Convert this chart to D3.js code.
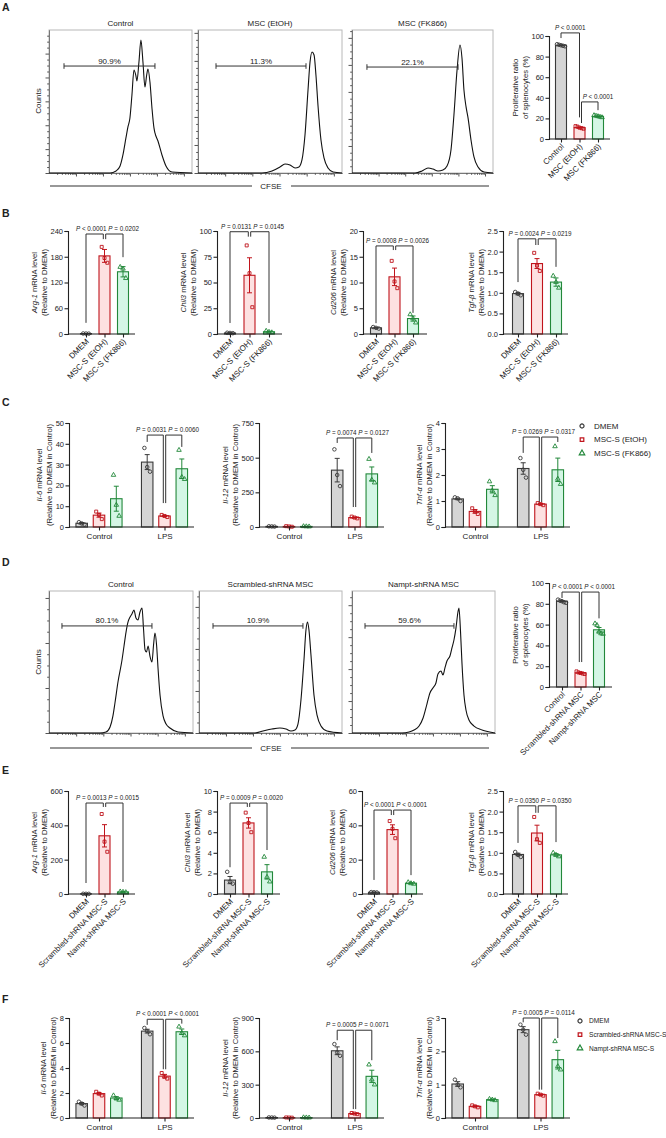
<!DOCTYPE html>
<html>
<head>
<meta charset="utf-8">
<script src="https://cdn.jsdelivr.net/npm/d3@7/dist/d3.min.js"></script>
<style>
  html, body { margin:0; padding:0; background:#fff; }
  svg { display:block; }
</style>
</head>
<body>
<svg id="fig" width="666" height="1138" xmlns="http://www.w3.org/2000/svg"></svg>
<script>
// ======================= DATA =======================
// ---- Panel A : CFSE histograms (x = % of CFSE axis, y = % of max counts) ----
const histTitlesA = ["Control", "MSC (EtOH)", "MSC (FK866)"];
const gateLabelsA = ["90.9%", "11.3%", "22.1%"];
const gatesA = [[10.5, 74.1, 74.8], [12.5, 75.0, 74.8], [10.6, 75.2, 74.1]];
const countStepA = [16.7, 19.6, 18.9];
const histA1 = [[0,0],[42.7,0],[46.9,1.4],[49.7,4.9],[51.7,12.6],[53.8,24.5],[55.2,32.2],[56.6,38.5],[58,54.5],[59.4,72],[60.8,67.8],[61.5,64.3],[62.9,77.6],[64.3,93],[65.7,77.6],[67.1,60.1],[68.2,67.8],[69.2,72.7],[70.6,63.6],[72,45.5],[73.4,31.5],[74.1,28],[76.2,22.4],[79,12.6],[81.8,4.9],[86,0.7],[100,0]];
const histA2 = [[0,0],[44.4,0],[51.4,1.4],[56.9,4.2],[60.4,6.3],[63.9,5.6],[67.4,3.5],[70.1,4.2],[72.2,9.1],[74.3,26.6],[76.4,58],[77.8,77.6],[79.2,84.6],[80.6,82.5],[81.9,68.5],[83.3,47.6],[85.4,23.1],[87.5,10.5],[90.3,3.5],[93.8,0.7],[100,0]];
const histA3 = [[0,0],[44.7,0],[49.6,1.4],[53.9,3.5],[57.4,2.8],[61,1.4],[64.5,2.1],[67.4,4.9],[70.2,16.1],[72.3,40.6],[74.5,72],[76.6,89.5],[78,80.4],[79.4,58],[80.9,46.2],[82.3,38.5],[84.4,23.1],[86.5,11.2],[89.4,4.2],[93.6,0.7],[100,0]];

// ---- Panel A : proliferation bar chart ----
const prolifCatsA = ["Control", "MSC (EtOH)", "MSC (FK866)"];
const prolifMeanA = [91, 11, 22];
const prolifSemA = [0.4, 0.5, 0.4];
const prolifPtsA = [[92, 91.5, 91, 90.5, 90], [12.5, 12, 11, 10.5, 10], [23, 22.5, 22, 21.5, 21]];
const prolifTicks = [0, 20, 40, 60, 80, 100];

// ---- Panel B ----
const catsB = ["DMEM", "MSC-S (EtOH)", "MSC-S (FK866)"];
const argMeanB = [1.0, 182, 145];
const argSemB = [0.15, 15, 12];
const argPtsB = [[1.2, 1.0, 0.8], [203, 177, 166], [156, 152, 130]];
const argTicksB = [0, 60, 120, 180, 240];
const argPB = ["< 0.0001", "= 0.0202"];
const argBracketB = [233, 26, 221, 179];

const chilMeanB = [1.0, 57, 2.2];
const chilSemB = [0.2, 17, 0.4];
const chilPtsB = [[1.2, 1.0, 0.8], [86, 59, 26], [3.0, 2.0, 1.5]];
const chilTicksB = [0, 25, 50, 75, 100];
const chilPB = ["= 0.0131", "= 0.0145"];
const chilBracketB = [99.3, 10.7, 94.5, 10.7];

const cdMeanB = [1.2, 11.1, 3.0];
const cdSemB = [0.1, 1.7, 0.5];
const cdPtsB = [[1.35, 1.2, 1.05], [14.2, 10.2, 8.9], [3.8, 3.0, 2.2]];
const cdTicksB = [0, 5, 10, 15, 20];
const cdPB = ["= 0.0008", "= 0.0026"];
const cdBracketB = [17.1, 2.1, 16.3, 4.1];

const tgfMeanB = [0.98, 1.71, 1.26];
const tgfSemB = [0.03, 0.12, 0.1];
const tgfPtsB = [[1.02, 0.98, 0.94], [1.97, 1.66, 1.53], [1.41, 1.26, 1.12]];
const tgfTicks = [0, 0.5, 1.0, 1.5, 2.0, 2.5];
const tgfPB = ["= 0.0024", "= 0.0219"];
const tgfBracketB = [2.31, 1.26, 2.16, 1.63];

// ---- Panel C (groups x series) ----
const groupsC = ["Control", "LPS"];
const seriesC = ["DMEM", "MSC-S (EtOH)", "MSC-S (FK866)"];
const il6MeanC = [[1.8, 5.7, 13.6], [31.2, 5.3, 28]];
const il6SemC = [[0.35, 1.0, 6.0], [3.6, 0.3, 4.7]];
const il6PtsC = [[[2.3, 1.7, 1.2], [7.4, 5.8, 3.8], [25, 10.6, 5.3]], [[38, 28.8, 26.6], [5.8, 5.3, 4.8], [37, 24, 23]]];
const il6TicksC = [0, 10, 20, 30, 40, 50];
const il6PC = ["= 0.0031", "= 0.0060"];
const il6BracketC = [44.2, 40.9, 11.5, 38.5];

const il12MeanC = [[4, 4, 4], [410, 68, 383]];
const il12SemC = [[0.5, 1, 0.5], [85, 4, 50]];
const il12PtsC = [[[5, 4, 3], [6, 4, 2], [5, 4, 3]], [[560, 375, 295], [75, 68, 62], [490, 340, 320]]];
const il12TicksC = [0, 250, 500, 750];
const il12PC = ["= 0.0074", "= 0.0127"];
const il12BracketC = [642, 606, 144, 534];

const tnfMeanC = [[1.08, 0.6, 1.45], [2.25, 0.88, 2.2]];
const tnfSemC = [[0.03, 0.07, 0.14], [0.22, 0.03, 0.45]];
const tnfPtsC = [[[1.14, 1.1, 1.0], [0.72, 0.6, 0.5], [1.75, 1.4, 1.22]], [[2.65, 2.2, 1.9], [0.92, 0.88, 0.84], [3.1, 1.85, 1.65]]];
const tnfTicksC = [0, 1, 2, 3, 4];
const tnfPC = ["= 0.0269", "= 0.0317"];
const tnfBracketC = [3.46, 2.85, 0.96, 3.27];

// ---- Panel D : CFSE histograms ----
const histTitlesD = ["Control", "Scrambled-shRNA MSC", "Nampt-shRNA MSC"];
const gateLabelsD = ["80.1%", "10.9%", "59.6%"];
const gatesD = [[9.0, 71.5, 75.4], [9.8, 72.7, 75.4], [9.1, 71.3, 75.4]];
const countStepD = [31.7, 29.6, 22.5];
const histD1 = [[0,0],[35.4,0],[39.6,0.7],[42.4,4.2],[44.4,12],[45.8,21.1],[47.9,35.9],[50.7,51.4],[52.1,61.3],[53.5,71.1],[54.9,78.2],[56.3,81.7],[57.6,83.8],[59,86.6],[60.4,81],[61.8,79.6],[63.2,85.2],[64.6,88],[65.6,73.9],[66.7,58.5],[67.7,57],[68.8,61.3],[70.1,54.2],[71.5,50],[72.6,62],[73.6,70.4],[74.7,62],[75.7,45.8],[77.1,26.8],[79.2,12],[81.3,6.3],[84,3.5],[89.6,0.7],[100,0]];
const histD2 = [[0,0],[39.2,0],[44.8,1.4],[51,2.8],[56.6,3.5],[60.8,2.8],[64.3,1.4],[67.1,2.1],[69.2,6.3],[71.3,23.2],[73.4,51.4],[74.8,72.5],[75.9,78.2],[76.9,72.5],[78.3,54.9],[80.4,26.8],[82.5,12.7],[85.3,4.9],[89.5,1.4],[100,0]];
const histD3 = [[0,0],[35,0],[39.9,0.7],[43.4,2.1],[46.9,4.9],[49.7,10.6],[52.4,20.4],[54.5,28.2],[56.6,31.7],[58.7,35.2],[60.1,41.5],[62.2,43.7],[63.6,40.8],[65,45.8],[66.4,50.7],[68.5,54.2],[69.9,59.9],[71.3,65.5],[72.7,73.9],[74.1,85.2],[74.8,88],[75.9,71.1],[76.9,49.3],[78.3,26.8],[79.7,16.2],[81.8,9.2],[85.3,4.9],[90.9,2.1],[100,0]];

// ---- Panel D : proliferation bar chart ----
const prolifCatsD = ["Control", "Scrambled-shRNA MSC", "Nampt-shRNA MSC"];
const prolifMeanD = [82.5, 13.5, 55];
const prolifSemD = [0.6, 0.5, 2.2];
const prolifPtsD = [[84, 83, 82.5, 81.5, 81], [15, 14, 13.5, 13, 12.5], [61, 59.5, 53, 51.5, 51]];
const prolifPD = ["< 0.0001", "< 0.0001"];
const prolifBracketD = [91.3, 85.6, 24, 66];

// ---- Panel E ----
const catsE = ["DMEM", "Scrambled-shRNA MSC-S", "Nampt-shRNA MSC-S"];
const argMeanE = [1.0, 339, 12];
const argSemE = [0.2, 65, 1.2];
const argPtsE = [[1.2, 1.0, 0.8], [466, 305, 246], [14, 12, 10]];
const argTicksE = [0, 200, 400, 600];
const argPE = ["= 0.0013", "= 0.0015"];
const argBracketE = [530, 64, 507, 70];

const chilMeanE = [1.35, 6.9, 2.15];
const chilSemE = [0.35, 0.5, 0.7];
const chilPtsE = [[2.15, 1.2, 1.0], [7.9, 6.9, 6.0], [3.6, 1.65, 1.2]];
const chilTicksE = [0, 2, 4, 6, 8, 10];
const chilPE = ["= 0.0009", "= 0.0020"];
const chilBracketE = [8.83, 2.6, 8.45, 4.27];

const cdMeanE = [1.0, 37.5, 6.3];
const cdSemE = [0.1, 2.8, 0.3];
const cdPtsE = [[1.1, 1.0, 0.9], [42.5, 38, 32.5], [6.8, 6.2, 5.9]];
const cdTicksE = [0, 20, 40, 60];
const cdPE = ["< 0.0001", "< 0.0001"];
const cdBracketE = [48.9, 8.2, 46, 11];

const tgfMeanE = [0.96, 1.48, 0.95];
const tgfSemE = [0.03, 0.19, 0.03];
const tgfPtsE = [[1.02, 0.95, 0.9], [1.87, 1.33, 1.24], [1.0, 0.95, 0.91]];
const tgfPE = ["= 0.0350", "= 0.0350"];
const tgfBracketE = [2.14, 1.24, 1.97, 1.26];

// ---- Panel F ----
const seriesF = ["DMEM", "Scrambled-shRNA MSC-S", "Nampt-shRNA MSC-S"];
const il6MeanF = [[1.15, 1.95, 1.6], [6.95, 3.35, 6.9]];
const il6SemF = [[0.09, 0.09, 0.11], [0.15, 0.14, 0.22]];
const il6PtsF = [[[1.3, 1.15, 1.0], [2.1, 1.95, 1.8], [1.8, 1.55, 1.45]], [[7.2, 6.95, 6.7], [3.6, 3.3, 3.15], [7.3, 6.8, 6.6]]];
const il6TicksF = [0, 2, 4, 6, 8];
const il6PF = ["< 0.0001", "< 0.0001"];
const il6BracketF = [7.9, 7.45, 3.9, 7.55];

const il12MeanF = [[4, 4, 4], [605, 40, 375]];
const il12SemF = [[0.5, 0.5, 0.5], [35, 4, 55]];
const il12PtsF = [[[5, 4, 3], [5, 4, 3], [5, 4, 3]], [[665, 590, 560], [45, 40, 35], [480, 345, 300]]];
const il12TicksF = [0, 300, 600, 900];
const il12PF = ["= 0.0005", "= 0.0071"];
const il12BracketF = [790, 700, 80, 520];

const tnfMeanF = [[1.02, 0.35, 0.55], [2.65, 0.7, 1.75]];
const tnfSemF = [[0.07, 0.02, 0.02], [0.09, 0.02, 0.28]];
const tnfPtsF = [[[1.15, 1.0, 0.92], [0.38, 0.35, 0.32], [0.57, 0.55, 0.53]], [[2.8, 2.65, 2.5], [0.73, 0.7, 0.67], [2.3, 1.55, 1.45]]];
const tnfTicksF = [0, 1, 2, 3];
const tnfPF = ["= 0.0005", "= 0.0114"];
const tnfBracketF = [3.0, 2.87, 0.85, 2.4];

// ======================= DRAWING =======================
const svg = d3.select("#fig");
const FONT = "'Liberation Sans', Arial, Helvetica, sans-serif";
const INK = "#222";
const STROKE = ["#3a3a3a", "#c0141c", "#22883a"];
const FILL = ["#d5d5d5", "#fde1e1", "#d4f6e5"];
const SHAPES = [d3.symbolCircle, d3.symbolSquare, d3.symbolTriangle];
const SYM_SIZE = [10, 9, 9];

function addText(g, x, y, s, size, anchor = "middle", weight = "normal") {
  return g.append("text").attr("x", x).attr("y", y).attr("font-family", FONT).attr("font-size", size)
    .attr("text-anchor", anchor).attr("font-weight", weight).attr("fill", INK).text(s);
}
function panelLetter(l, y) { addText(svg, 2, y, l, 10.5, "start", "bold"); }

function styleAxis(a) {
  a.attr("font-family", FONT).attr("font-size", 7.5);
  a.select(".domain").attr("stroke", INK).attr("stroke-width", 1.1);
  a.selectAll(".tick line").attr("stroke", INK).attr("stroke-width", 1.1);
  a.selectAll(".tick text").attr("fill", INK);
}

function histogram(o) {
  const g = svg.append("g");
  const xs = d3.scaleLinear().domain([0, 100]).range([o.left, o.right]);
  const ys = d3.scaleLinear().domain([0, 100]).range([o.bottom, o.top]);
  g.append("rect").attr("x", o.left).attr("y", o.top).attr("width", o.right - o.left).attr("height", o.bottom - o.top)
    .attr("fill", "none").attr("stroke", "#b8b8b8").attr("stroke-width", 1);
  const major = d3.range(0, 100.001, o.step);
  const minor = d3.range(0, 100.001, o.step / 4).filter(v => !major.some(m => Math.abs(m - v) < 1e-6));
  const ya = g.append("g").attr("transform", `translate(${o.left},0)`);
  ya.append("g").call(d3.axisLeft(ys).tickValues(major).tickSize(3.5).tickSizeOuter(0).tickFormat(""));
  ya.append("g").call(d3.axisLeft(ys).tickValues(minor).tickSize(1.8).tickSizeOuter(0).tickFormat(""));
  const dec = 100 / 5.3;
  const xMaj = [1, 2, 3, 4, 5].map(k => k * dec);
  const xMin = [];
  for (let d = 0; d < 6; d++) for (let m = 2; m < 10; m++) { const v = (d + Math.log10(m)) * dec; if (v < 100) xMin.push(v); }
  const xa = g.append("g").attr("transform", `translate(0,${o.bottom})`);
  xa.append("g").call(d3.axisBottom(xs).tickValues(xMaj).tickSize(3.5).tickSizeOuter(0).tickFormat(""));
  xa.append("g").call(d3.axisBottom(xs).tickValues(xMin).tickSize(1.8).tickSizeOuter(0).tickFormat(""));
  g.selectAll(".domain").attr("stroke", "#777");
  g.selectAll(".tick line").attr("stroke", "#555");
  g.append("path").datum(o.curve).attr("fill", "none").attr("stroke", "#111").attr("stroke-width", 1.1)
    .attr("d", d3.line().x(d => xs(d[0])).y(d => ys(d[1])).curve(d3.curveMonotoneX));
  const gy = ys(o.gate[2]), g0 = xs(o.gate[0]), g1 = xs(o.gate[1]);
  g.append("path").attr("d", `M${g0},${gy - 2.8}V${gy + 2.8}M${g0},${gy}H${g1}M${g1},${gy - 2.8}V${gy + 2.8}`)
    .attr("stroke", "#333").attr("fill", "none").attr("stroke-width", 1);
  addText(g, (g0 + g1) / 2, gy - 2.5, o.label, 8);
  addText(g, (o.left + o.right) / 2, o.top - 4, o.title, 8);
}

function cfseAxis(y) {
  svg.append("line").attr("x1", 50).attr("x2", 252).attr("y1", y).attr("y2", y).attr("stroke", "#333").attr("stroke-width", 1.2);
  svg.append("line").attr("x1", 291).attr("x2", 489).attr("y1", y).attr("y2", y).attr("stroke", "#333").attr("stroke-width", 1.2);
  addText(svg, 271, y + 3, "CFSE", 8);
}
function countsLabel(y) {
  svg.append("text").attr("transform", `translate(41,${y}) rotate(-90)`).attr("text-anchor", "middle")
    .attr("font-family", FONT).attr("font-size", 8).attr("fill", INK).text("Counts");
}

function drawBar(g, cx, s, mean, sem, pts, y, bw) {
  g.append("rect").attr("x", cx - bw / 2).attr("y", y(mean)).attr("width", bw).attr("height", Math.max(0, y(0) - y(mean)))
    .attr("fill", FILL[s]).attr("stroke", STROKE[s]).attr("stroke-width", 1.1);
  const t = y(mean + sem), b = y(Math.max(0, mean - sem));
  g.append("path").attr("d", `M${cx - 2.5},${t}H${cx + 2.5}M${cx},${t}V${b}M${cx - 2.5},${b}H${cx + 2.5}`)
    .attr("stroke", STROKE[s]).attr("stroke-width", 1).attr("fill", "none");
  const n = pts.length, spread = n > 3 ? 2 : 2.8;
  pts.forEach((v, j) => {
    g.append("path").attr("d", d3.symbol().type(SHAPES[s]).size(SYM_SIZE[s])())
      .attr("transform", `translate(${cx + (j - (n - 1) / 2) * spread},${y(v)})`)
      .attr("fill", "none").attr("stroke", STROKE[s]).attr("stroke-width", 0.9);
  });
}

function pText(g, x, y, vals, anchor = "middle") {
  const t = g.append("text").attr("x", x).attr("y", y).attr("text-anchor", anchor)
    .attr("font-family", FONT).attr("font-size", 6.3).attr("fill", INK);
  vals.forEach((v, i) => {
    t.append("tspan").attr("font-style", "italic").text((i > 0 ? " " : "") + "P");
    t.append("tspan").text(" " + v);
  });
}

function yTitle(g, base2, yMid, parts1, line2) {
  const t1 = g.append("text").attr("transform", `translate(${base2 - 10},${yMid}) rotate(-90)`).attr("text-anchor", "middle")
    .attr("font-family", FONT).attr("font-size", 7.7).attr("fill", INK);
  parts1.forEach(p => t1.append("tspan").attr("font-style", p[1] ? "italic" : "normal").text(p[0]));
  g.append("text").attr("transform", `translate(${base2},${yMid}) rotate(-90)`).attr("text-anchor", "middle")
    .attr("font-family", FONT).attr("font-size", 7.7).attr("fill", INK).text(line2);
}

function yAxisWithTitle(g, o, y) {
  const ya = g.append("g").attr("transform", `translate(${o.ax},0)`)
    .call(d3.axisLeft(y).tickValues(o.ticks).tickFormat(o.fmt || d3.format("d")).tickSizeOuter(0).tickSize(3.5).tickPadding(1.5));
  styleAxis(ya);
  const w = d3.max(ya.selectAll(".tick text").nodes(), n => n.getBBox().width);
  yTitle(g, o.ax - 3.5 - 1.5 - w - 3.5, (o.yTop + o.yBot) / 2, o.title1, o.title2);
}

function pairBracket(g, xl, xm, xr, y, b, pv) {
  const top = y(b[0]);
  g.append("path").attr("d", `M${xl},${y(b[1])}V${top}H${xm - 1.2}V${y(b[2])}M${xm + 1.2},${y(b[2])}V${top}H${xr}V${y(b[3])}`)
    .attr("fill", "none").attr("stroke", "#333").attr("stroke-width", 1);
  pText(g, xm + 3, top - 3, pv);
}

function simpleChart(o) {
  const g = svg.append("g");
  const y = d3.scaleLinear().domain([0, o.yMax]).range([o.yBot, o.yTop]);
  const x = d3.scalePoint().domain(o.cats).range([o.ax + o.off, o.ax + o.off + o.step * (o.cats.length - 1)]);
  o.cats.forEach((c, i) => drawBar(g, x(c), i, o.means[i], o.sems[i], o.pts[i], y, 11));
  yAxisWithTitle(g, o, y);
  g.append("line").attr("x1", o.ax).attr("x2", o.ax + o.axLen).attr("y1", y(0)).attr("y2", y(0)).attr("stroke", INK).attr("stroke-width", 1.1);
  const xa = g.append("g").attr("transform", `translate(0,${y(0)})`).call(d3.axisBottom(x).tickSize(3.5).tickSizeOuter(0).tickFormat(""));
  xa.select(".domain").remove(); styleAxis(xa);
  o.cats.forEach(c => g.append("text").attr("transform", `translate(${x(c) + 1.5},${y(0) + 6}) rotate(-45)`)
    .attr("dy", "0.35em").attr("text-anchor", "end").attr("font-family", FONT).attr("font-size", 8).attr("fill", INK).text(c));
  if (o.bracket) pairBracket(g, x(o.cats[0]), x(o.cats[1]), x(o.cats[2]), y, o.bracket, o.pvals);
  return { g, x, y };
}

function groupChart(o) {
  const g = svg.append("g");
  const y = d3.scaleLinear().domain([0, o.yMax]).range([o.yBot, o.yTop]);
  const x0 = d3.scalePoint().domain(o.groups).range([o.ax + 30, o.ax + 95.5]);
  const x1 = d3.scalePoint().domain(o.series).range([-17.3, 17.3]);
  o.groups.forEach((gn, gi) => o.series.forEach((sn, si) =>
    drawBar(g, x0(gn) + x1(sn), si, o.means[gi][si], o.sems[gi][si], o.pts[gi][si], y, 11.5)));
  yAxisWithTitle(g, o, y);
  g.append("line").attr("x1", o.ax).attr("x2", o.ax + 125).attr("y1", y(0)).attr("y2", y(0)).attr("stroke", INK).attr("stroke-width", 1.1);
  const xa = g.append("g").attr("transform", `translate(0,${y(0)})`).call(d3.axisBottom(x0).tickSize(3.5).tickSizeOuter(0).tickPadding(3));
  xa.select(".domain").remove(); styleAxis(xa); xa.attr("font-size", 8);
  const L = o.groups[1];
  pairBracket(g, x0(L) + x1(o.series[0]), x0(L) + x1(o.series[1]), x0(L) + x1(o.series[2]), y, o.bracket, o.pvals);
}

function legend(x, y0, names, fs, tx) {
  names.forEach((n, i) => {
    const yy = y0 + i * 13.6;
    svg.append("path").attr("d", d3.symbol().type(SHAPES[i]).size(13)()).attr("transform", `translate(${x},${yy})`)
      .attr("fill", "none").attr("stroke", STROKE[i]).attr("stroke-width", 1.2);
    addText(svg, x + tx, yy + fs * 0.36, n, fs, "start");
  });
}

// ---------- Panel A ----------
panelLetter("A", 11);
const boxesA = [[49, 192], [198, 342], [352, 493]];
const curvesA = [histA1, histA2, histA3];
boxesA.forEach((b, i) => histogram({ left: b[0], right: b[1], top: 30, bottom: 173, step: countStepA[i],
  curve: curvesA[i], gate: gatesA[i], label: gateLabelsA[i], title: histTitlesA[i] }));
countsLabel(101);
cfseAxis(186);

(function () {
  const o = { ax: 549, axLen: 61, off: 12, step: 18.5, yTop: 36, yBot: 139, yMax: 100, ticks: prolifTicks,
    cats: prolifCatsA, means: prolifMeanA, sems: prolifSemA, pts: prolifPtsA,
    title1: [["Proliferative ratio", false]], title2: "of splenocytes (%)" };
  const { g, x, y } = simpleChart(o);
  const x0 = x(prolifCatsA[0]), x1 = x(prolifCatsA[1]), x2 = x(prolifCatsA[2]);
  g.append("path").attr("d", `M${x0},${y(98)}V${y(103)}H${x1}V${y(21)}`).attr("fill", "none").attr("stroke", "#333");
  pText(g, (x0 + x1) / 2, y(103) - 3, ["< 0.0001"]);
  g.append("path").attr("d", `M${x1 + 2},${y(15.5)}V${y(36)}H${x2}V${y(28)}`).attr("fill", "none").attr("stroke", "#333");
  pText(g, x2, y(36) - 3, ["< 0.0001"]);
})();

// ---------- Panel B ----------
panelLetter("B", 217);
const yB = { yTop: 231, yBot: 334 };
simpleChart({ ax: 68, axLen: 67, off: 18, step: 18.5, ...yB, yMax: 240, ticks: argTicksB, cats: catsB,
  means: argMeanB, sems: argSemB, pts: argPtsB, title1: [["Arg-1", true], [" mRNA level", false]], title2: "(Relative to DMEM)",
  bracket: argBracketB, pvals: argPB });
simpleChart({ ax: 217, axLen: 65, off: 13, step: 19.5, ...yB, yMax: 100, ticks: chilTicksB, cats: catsB,
  means: chilMeanB, sems: chilSemB, pts: chilPtsB, title1: [["Chil3", true], [" mRNA level", false]], title2: "(Relative to DMEM)",
  bracket: chilBracketB, pvals: chilPB });
simpleChart({ ax: 363, axLen: 64, off: 13, step: 18.5, ...yB, yMax: 20, ticks: cdTicksB, cats: catsB,
  means: cdMeanB, sems: cdSemB, pts: cdPtsB, title1: [["Cd206", true], [" mRNA level", false]], title2: "(Relative to DMEM)",
  bracket: cdBracketB, pvals: cdPB });
simpleChart({ ax: 503, axLen: 65, off: 15, step: 19, ...yB, yMax: 2.5, ticks: tgfTicks, fmt: d3.format(".1f"), cats: catsB,
  means: tgfMeanB, sems: tgfSemB, pts: tgfPtsB, title1: [["Tgf-β", true], [" mRNA level", false]], title2: "(Relative to DMEM)",
  bracket: tgfBracketB, pvals: tgfPB });

// ---------- Panel C ----------
panelLetter("C", 406);
const yC = { yTop: 423, yBot: 527 };
groupChart({ ax: 69, ...yC, yMax: 50, ticks: il6TicksC, groups: groupsC, series: seriesC, means: il6MeanC, sems: il6SemC, pts: il6PtsC,
  title1: [["Il-6", true], [" mRNA level", false]], title2: "(Relative to DMEM in Control)", bracket: il6BracketC, pvals: il6PC });
groupChart({ ax: 259, ...yC, yMax: 750, ticks: il12TicksC, groups: groupsC, series: seriesC, means: il12MeanC, sems: il12SemC, pts: il12PtsC,
  title1: [["Il-12", true], [" mRNA level", false]], title2: "(Relative to DMEM in Control)", bracket: il12BracketC, pvals: il12PC });
groupChart({ ax: 445, ...yC, yMax: 4, ticks: tnfTicksC, groups: groupsC, series: seriesC, means: tnfMeanC, sems: tnfSemC, pts: tnfPtsC,
  title1: [["Tnf-α", true], [" mRNA level", false]], title2: "(Relative to DMEM in Control)", bracket: tnfBracketC, pvals: tnfPC });
legend(582, 426, seriesC, 8, 12);

// ---------- Panel D ----------
panelLetter("D", 566);
const boxesD = [[49, 193], [199, 342], [352, 495]];
const curvesD = [histD1, histD2, histD3];
boxesD.forEach((b, i) => histogram({ left: b[0], right: b[1], top: 591, bottom: 733, step: countStepD[i],
  curve: curvesD[i], gate: gatesD[i], label: gateLabelsD[i], title: histTitlesD[i] }));
countsLabel(662);
cfseAxis(748);
simpleChart({ ax: 549, axLen: 63, off: 13, step: 18.5, yTop: 583, yBot: 687, yMax: 100, ticks: prolifTicks,
  cats: prolifCatsD, means: prolifMeanD, sems: prolifSemD, pts: prolifPtsD,
  title1: [["Proliferative ratio", false]], title2: "of splenocytes (%)", bracket: prolifBracketD, pvals: prolifPD });

// ---------- Panel E ----------
panelLetter("E", 774);
const yE = { yTop: 791, yBot: 894 };
simpleChart({ ax: 68, axLen: 67, off: 18, step: 18.5, ...yE, yMax: 600, ticks: argTicksE, cats: catsE,
  means: argMeanE, sems: argSemE, pts: argPtsE, title1: [["Arg-1", true], [" mRNA level", false]], title2: "(Relative to DMEM)",
  bracket: argBracketE, pvals: argPE });
simpleChart({ ax: 217, axLen: 63, off: 13, step: 18.5, ...yE, yMax: 10, ticks: chilTicksE, cats: catsE,
  means: chilMeanE, sems: chilSemE, pts: chilPtsE, title1: [["Chil3", true], [" mRNA level", false]], title2: "(Relative to DMEM)",
  bracket: chilBracketE, pvals: chilPE });
simpleChart({ ax: 362, axLen: 61, off: 12, step: 18.5, ...yE, yMax: 60, ticks: cdTicksE, cats: catsE,
  means: cdMeanE, sems: cdSemE, pts: cdPtsE, title1: [["Cd206", true], [" mRNA level", false]], title2: "(Relative to DMEM)",
  bracket: cdBracketE, pvals: cdPE });
simpleChart({ ax: 503, axLen: 65, off: 15, step: 19, ...yE, yMax: 2.5, ticks: tgfTicks, fmt: d3.format(".1f"), cats: catsE,
  means: tgfMeanE, sems: tgfSemE, pts: tgfPtsE, title1: [["Tgf-β", true], [" mRNA level", false]], title2: "(Relative to DMEM)",
  bracket: tgfBracketE, pvals: tgfPE });

// ---------- Panel F ----------
panelLetter("F", 1003);
const yF = { yTop: 1018, yBot: 1118 };
groupChart({ ax: 69, ...yF, yMax: 8, ticks: il6TicksF, groups: groupsC, series: seriesF, means: il6MeanF, sems: il6SemF, pts: il6PtsF,
  title1: [["Il-6", true], [" mRNA level", false]], title2: "(Relative to DMEM in Control)", bracket: il6BracketF, pvals: il6PF });
groupChart({ ax: 259, ...yF, yMax: 900, ticks: il12TicksF, groups: groupsC, series: seriesF, means: il12MeanF, sems: il12SemF, pts: il12PtsF,
  title1: [["Il-12", true], [" mRNA level", false]], title2: "(Relative to DMEM in Control)", bracket: il12BracketF, pvals: il12PF });
groupChart({ ax: 445, ...yF, yMax: 3, ticks: tnfTicksF, groups: groupsC, series: seriesF, means: tnfMeanF, sems: tnfSemF, pts: tnfPtsF,
  title1: [["Tnf-α", true], [" mRNA level", false]], title2: "(Relative to DMEM in Control)", bracket: tnfBracketF, pvals: tnfPF });
legend(580, 1021, seriesF, 6.6, 9);
</script>
</body>
</html>
